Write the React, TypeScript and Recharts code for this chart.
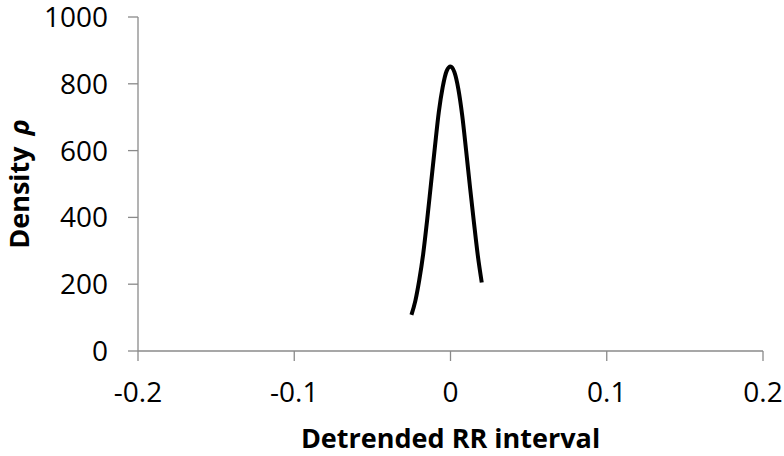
import React from 'react';
import { LineChart, Line, XAxis, YAxis } from 'recharts';

const xValues = [-0.025, -0.0225, -0.02, -0.0175, -0.015, -0.0125, -0.01, -0.0075, -0.005, -0.0025, 0, 0.0025, 0.005, 0.0075, 0.01, 0.0125, 0.015, 0.0175, 0.02];
const densityValues = [108, 150, 212, 290, 390, 500, 610, 715, 790, 838, 852, 835, 785, 705, 600, 490, 385, 285, 205];
const xTicks = [-0.2, -0.1, 0, 0.1, 0.2];
const yTicks = [0, 200, 400, 600, 800, 1000];

const data = xValues.map((x, i) => ({ x, y: densityValues[i] }));

const FONT = '"Open Sans", "Liberation Sans", sans-serif';
const AXIS_COLOR = '#8a8a8a';

const XTitle = (props: any) => {
  const vb = props.viewBox || {};
  return (
    <text x={vb.x + vb.width / 2} y={448} textAnchor="middle" fontFamily={FONT} fontWeight="bold" fontSize={27} fill="#000">
      Detrended RR interval
    </text>
  );
};

const YTitle = (props: any) => {
  const vb = props.viewBox || {};
  const cy = vb.y + vb.height / 2;
  const cx = 18;
  return (
    <text x={cx} y={cy} transform={`rotate(-90, ${cx}, ${cy})`} textAnchor="middle" dominantBaseline="central" fontFamily={FONT} fontWeight="bold" fontSize={27} fill="#000">
      Density <tspan fontStyle="italic" dx={4}>ρ</tspan>
    </text>
  );
};

export default function App() {
  return (
    <div style={{ position: 'absolute', left: 0, top: 0, width: 784, height: 456, background: '#fff' }}>
      <LineChart width={784} height={456} data={data} margin={{ top: 17, right: 21, bottom: 0, left: 0 }}>
        <XAxis
          type="number"
          dataKey="x"
          domain={[-0.2, 0.2]}
          ticks={xTicks}
          height={105}
          axisLine={{ stroke: AXIS_COLOR, strokeWidth: 1.3 }}
          tickLine={{ stroke: AXIS_COLOR, strokeWidth: 1.3 }}
          tickSize={10}
          tickMargin={21}
          tick={{ fill: '#000', fontSize: 28, fontFamily: FONT }}
          interval={0}
          label={<XTitle />}
        />
        <YAxis
          type="number"
          domain={[0, 1000]}
          ticks={yTicks}
          width={138}
          axisLine={{ stroke: AXIS_COLOR, strokeWidth: 1.3 }}
          tickLine={{ stroke: AXIS_COLOR, strokeWidth: 1.3 }}
          tickSize={10}
          tickMargin={20}
          tick={{ fill: '#000', fontSize: 28, fontFamily: FONT }}
          interval={0}
          label={<YTitle />}
        />
        <Line type="monotone" dataKey="y" stroke="#000" strokeWidth={4} dot={false} isAnimationActive={false} />
      </LineChart>
    </div>
  );
}
